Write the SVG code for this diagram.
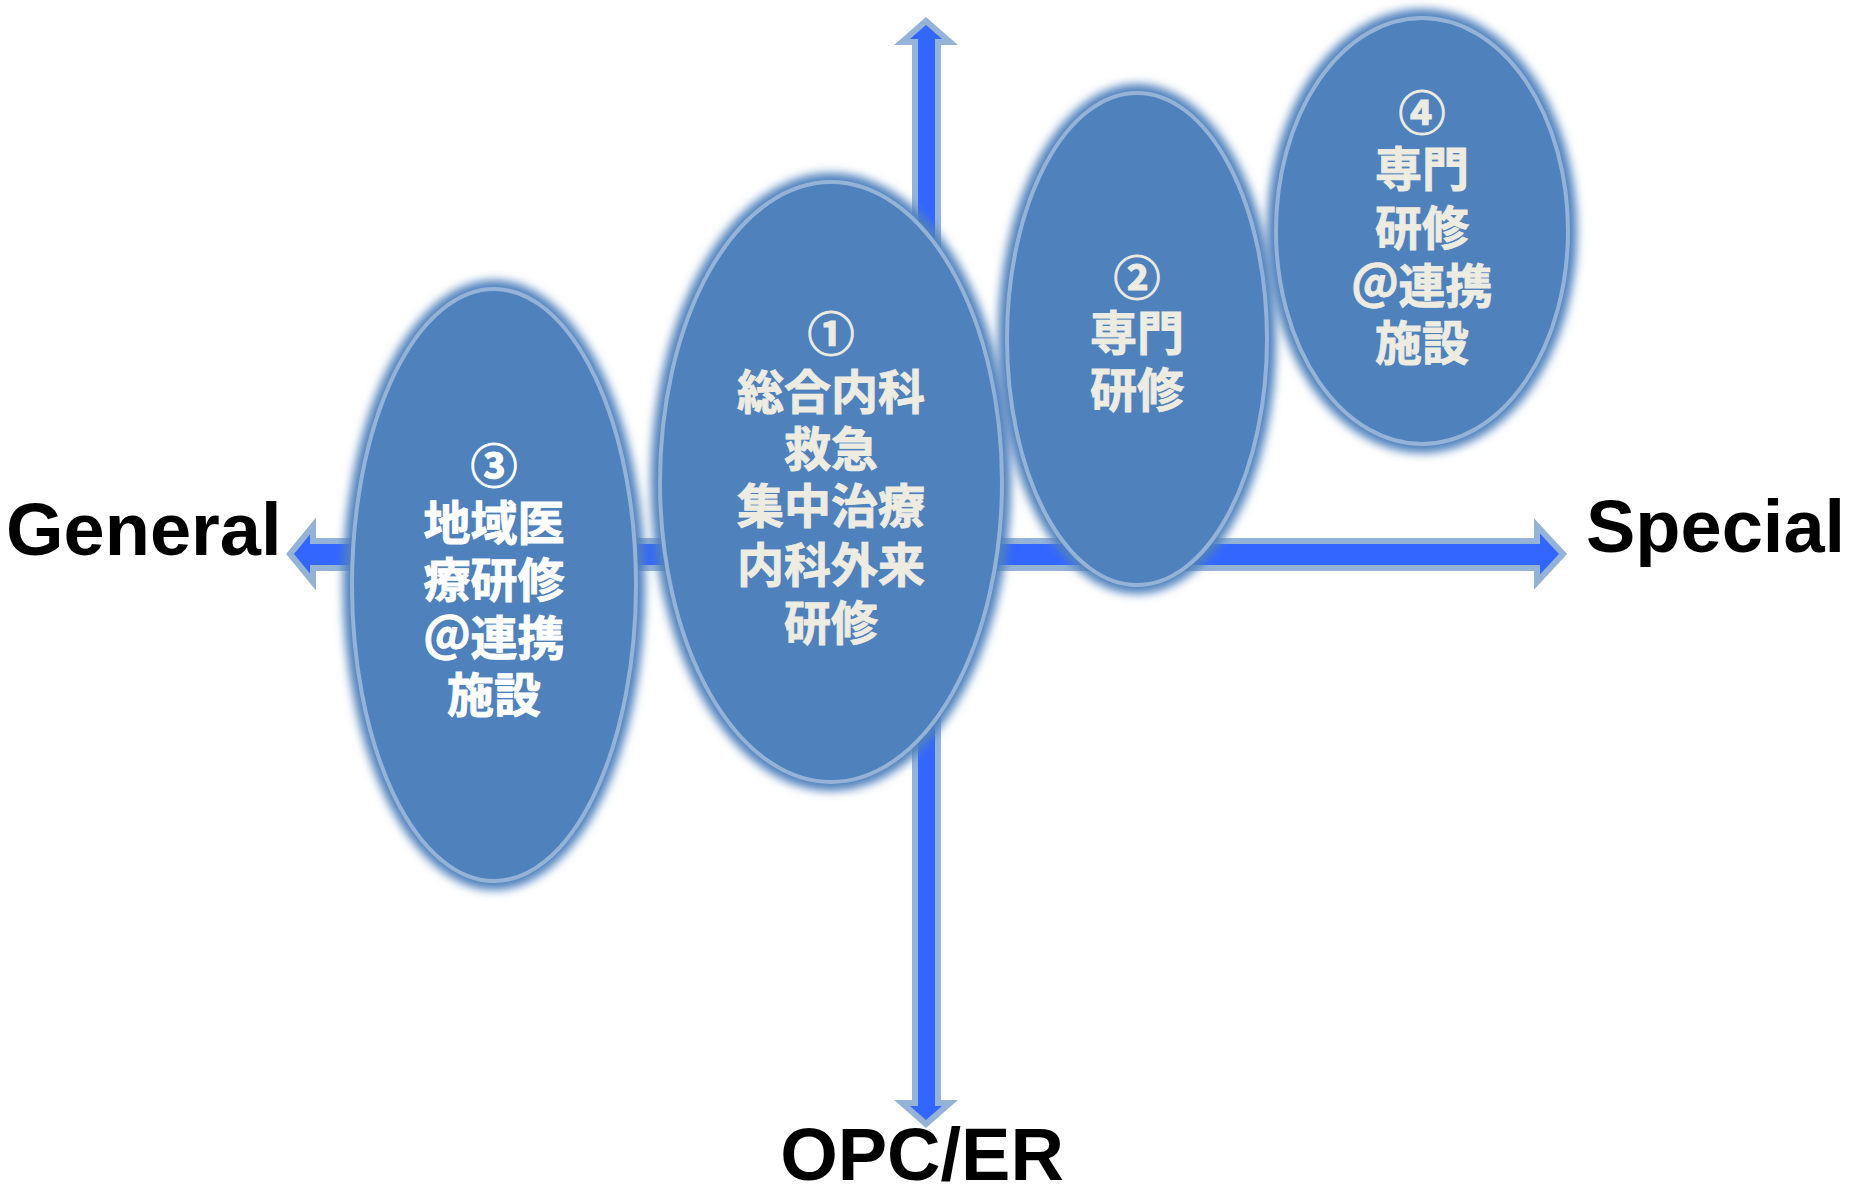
<svg xmlns="http://www.w3.org/2000/svg" width="1849" height="1189" viewBox="0 0 1849 1189">
<style>
.arrow{fill:#3366FF;stroke:#95B3D7;stroke-width:6;stroke-linejoin:miter;stroke-miterlimit:4}
.glow{fill:#4F81BD;filter:url(#blur)}
.body{fill:#4F81BD;stroke:#95B3D7;stroke-width:4}
.jp{font-family:"Noto Sans CJK JP","Noto Sans CJK SC",sans-serif;font-weight:700;font-size:47px;text-anchor:middle;fill:#EEECE1;stroke:#EEECE1;stroke-width:0.9}
.jpw{fill:#FFFFFF;stroke:#FFFFFF}
.axis{font-family:"Liberation Sans",Arial,sans-serif;font-weight:700;font-size:74px;fill:#000000}
</style>
<defs>
<filter id="blur" x="-20%" y="-20%" width="140%" height="140%"><feGaussianBlur stdDeviation="5"/></filter>
</defs>
<rect width="1849" height="1189" fill="#FFFFFF"/>
<g id="connectors">
<path id="axis-vertical" class="arrow" d="M926,21 L950,42 L938,42 L938,1103 L950,1103 L926,1124 L902,1103 L915,1103 L915,42 L902,42 Z"/>
<path id="axis-horizontal" class="arrow" d="M290,554 L313,526 L313,541 L1537,541 L1537,526 L1563,554 L1537,582 L1537,568 L313,568 L313,582 Z"/>
</g>
<g id="node3">
<ellipse class="glow" cx="494" cy="585" rx="151" ry="305"/>
<ellipse class="body" cx="494" cy="585" rx="142" ry="296"/>
<text class="jp jpw" x="494" y="483">③</text>
<text class="jp jpw" x="494" y="540">地域医</text>
<text class="jp jpw" x="494" y="597">療研修</text>
<text class="jp jpw" x="494" y="655">＠連携</text>
<text class="jp jpw" x="494" y="712">施設</text>
</g>
<g id="node1">
<ellipse class="glow" cx="831" cy="482" rx="180" ry="309"/>
<ellipse class="body" cx="831" cy="482" rx="171" ry="300"/>
<text class="jp" x="831" y="351">①</text>
<text class="jp" x="831" y="409">総合内科</text>
<text class="jp" x="831" y="466">救急</text>
<text class="jp" x="831" y="523">集中治療</text>
<text class="jp" x="831" y="582">内科外来</text>
<text class="jp" x="831" y="640">研修</text>
</g>
<g id="node2">
<ellipse class="glow" cx="1137" cy="339" rx="139" ry="255"/>
<ellipse class="body" cx="1137" cy="339" rx="130" ry="246"/>
<text class="jp" x="1137" y="295">②</text>
<text class="jp" x="1137" y="350">専門</text>
<text class="jp" x="1137" y="407">研修</text>
</g>
<g id="node4">
<ellipse class="glow" cx="1422" cy="231" rx="155" ry="222"/>
<ellipse class="body" cx="1422" cy="231" rx="146" ry="213"/>
<text class="jp" x="1422" y="130">④</text>
<text class="jp" x="1422" y="186">専門</text>
<text class="jp" x="1422" y="245">研修</text>
<text class="jp" x="1422" y="303">＠連携</text>
<text class="jp" x="1422" y="360">施設</text>
</g>
<g id="labels">
<text class="axis" x="6" y="555">General</text>
<text class="axis" x="1586" y="552">Special</text>
<text class="axis" x="922" y="1180" text-anchor="middle">OPC/ER</text>
</g>
</svg>
